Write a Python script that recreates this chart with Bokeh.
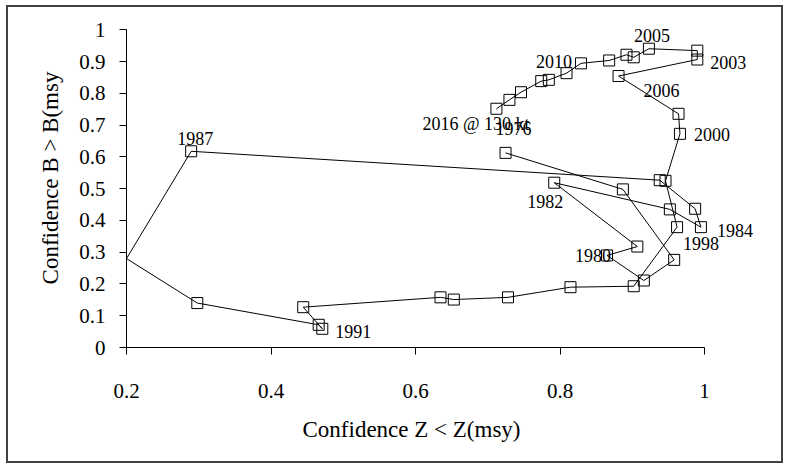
import numpy as np
from bokeh.plotting import figure
from bokeh.models import Range1d, FixedTicker, ColumnDataSource, Title
from bokeh.core.properties import value
from bokeh.embed import file_html
from bokeh.resources import INLINE

# Trajectory: confidence Z < Z(msy) (x) vs confidence B > B(msy) (y), 1976 -> 2016
conf_z = [0.7246, 0.887, 0.958, 0.916, 0.865, 0.907, 0.792, 0.952, 0.995, 0.987,
          0.938, 0.2895, 0.200, 0.298, 0.466, 0.471, 0.4446, 0.6346, 0.653, 0.728,
          0.8145, 0.902, 0.962, 0.946, 0.966, 0.964, 0.881, 0.990, 0.990, 0.923,
          0.902, 0.892, 0.868, 0.829, 0.809, 0.7845, 0.774, 0.746, 0.730, 0.712]
conf_b = [0.613, 0.498, 0.276, 0.211, 0.290, 0.318, 0.519, 0.435, 0.379, 0.437,
          0.527, 0.618, 0.280, 0.140, 0.0715, 0.059, 0.127, 0.158, 0.151, 0.158,
          0.190, 0.193, 0.379, 0.525, 0.673, 0.736, 0.855, 0.907, 0.935, 0.941,
          0.914, 0.922, 0.904, 0.895, 0.864, 0.843, 0.839, 0.804, 0.780, 0.752]

# Point labels: text and the index of the point they annotate
label_text = ["1976", "1980", "1982", "1984", "1987", "1991", "1998", "2000",
              "2003", "2005", "2006", "2010", "2016 @ 130 kt"]
label_index = [0, 4, 6, 8, 11, 15, 22, 24, 27, 29, 25, 33, 39]

x_ticks = [0.2, 0.4, 0.6, 0.8, 1.0]
y_ticks = [0.0, 0.1, 0.2, 0.3, 0.4, 0.5, 0.6, 0.7, 0.8, 0.9, 1.0]

x_title = "Confidence Z < Z(msy)"
y_title = "Confidence B > B(msy"

# label placement (pixel offsets of the text's left edge / middle)
label_dx = [-10, -32, -27, 16, -14, 13, 6, 14, 13, -15, -35, -45, -74]
label_dy = [-24, 0, 19, 3, -13, 3, 16, 1, 2.5, -13, -23, -1.5, 15]

FONT = "Liberation Serif"

# frame is extended right/top beyond the axes so labels/markers are not clipped
p = figure(width=777, height=458, output_backend="svg", toolbar_location=None,
           x_range=Range1d(0.2, 1.1093), y_range=Range1d(0.0, 1.0677),
           min_border_left=118, min_border_right=2, min_border_top=1,
           min_border_bottom=118)
p.styles = {"margin-left": "6px", "margin-top": "5px",
            "border": "2px solid #404040"}
p.outline_line_color = None
p.grid.visible = False
p.background_fill_color = "white"
p.border_fill_color = "white"

xs = np.array(conf_z)
ys = np.array(conf_b)
p.line(xs, ys, line_color="black", line_width=1)
mask = xs > 0.2
p.scatter(xs[mask], ys[mask], marker="square", size=11, fill_alpha=0,
          line_color="black", line_width=1)

idx = np.array(label_index)
src = ColumnDataSource(dict(x=xs[idx], y=ys[idx], t=label_text,
                            dx=label_dx, dy=label_dy))
p.text(x="x", y="y", text="t", x_offset="dx", y_offset="dy", source=src,
       text_font=value(FONT), text_font_size="18px", text_align="left",
       text_baseline="middle", text_color="black")

for ax in (p.xaxis[0], p.yaxis[0]):
    ax.major_tick_in = 0
    ax.major_tick_out = 7
    ax.minor_tick_line_color = None
    ax.axis_line_color = "black"
    ax.major_tick_line_color = "black"
    ax.major_label_text_font = FONT
    ax.major_label_text_font_size = "21px"
    ax.major_label_text_color = "black"
    ax.axis_label_text_font = FONT
    ax.axis_label_text_font_size = "23px"
    ax.axis_label_text_font_style = "normal"
    ax.axis_label_text_color = "black"

p.xaxis.bounds = (0.2, 1.0)
p.yaxis.bounds = (0.0, 1.0)
p.xaxis.ticker = FixedTicker(ticks=x_ticks)
p.yaxis.ticker = FixedTicker(ticks=y_ticks)
p.xaxis.major_label_overrides = {1.0: "1"}
p.yaxis.major_label_overrides = {0.0: "0", 1.0: "1"}
p.xaxis.major_label_standoff = 29
p.yaxis.major_label_standoff = 14
p.yaxis.axis_label = y_title
p.yaxis.axis_label_standoff = 13

# x title centred under the axis (not under the extended frame)
p.add_layout(Title(text=x_title, align="left", offset=176,
                   text_font=FONT, text_font_size="23px",
                   text_font_style="normal", text_color="black",
                   standoff=29), "below")

open("out.html", "w").write(file_html(p, INLINE))
